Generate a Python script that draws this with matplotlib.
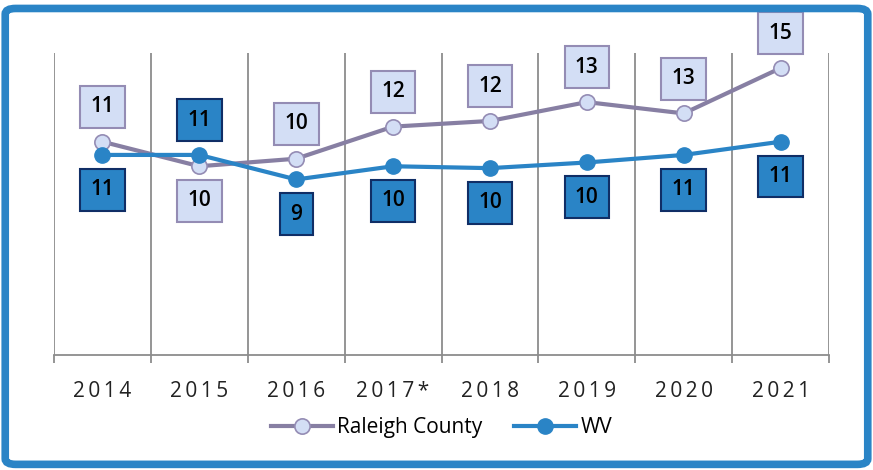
import matplotlib.pyplot as plt
from matplotlib.patches import FancyBboxPatch
import numpy as np

plt.rcParams['font.family'] = ['Open Sans', 'DejaVu Sans']

years = ['2014', '2015', '2016', '2017*', '2018', '2019', '2020', '2021']
raleigh = [11.3, 10.0, 10.4, 12.1, 12.4, 13.4, 12.8, 15.2]
wv = [10.6, 10.6, 9.3, 10.0, 9.9, 10.2, 10.6, 11.3]
raleigh_above = [True, False, True, True, True, True, True, True]
wv_above = [False, True, False, False, False, False, False, False]

c_ral = '#877FA3'
c_ral_fill = '#D3DEF5'
c_ral_edge = '#948CB4'
c_wv = '#2A84C6'
c_wv_edge = '#102E66'
c_grid = '#8C8C8C'

fig = plt.figure(figsize=(8.73, 4.7), dpi=100)

# outer blue frame
frame = FancyBboxPatch((0.006, 0.012), 0.988, 0.97, boxstyle='round,pad=0,rounding_size=0.012',
                       transform=fig.transFigure, fill=False, edgecolor=c_wv, linewidth=5.5)
fig.patches.append(frame)

ax = fig.add_axes([0.0619, 0.2447, 0.8877, 0.6425])
x = np.arange(len(years))

for b in np.arange(-0.5, len(years), 1):
    ax.axvline(b, color=c_grid, linewidth=1.3, zorder=1)

ax.plot(x, raleigh, color=c_ral, linewidth=3, marker='o', markersize=11,
        markerfacecolor=c_ral_fill, markeredgecolor=c_ral_edge, markeredgewidth=1.2,
        label='Raleigh County', zorder=3)
ax.plot(x, wv, color=c_wv, linewidth=3, marker='o', markersize=11,
        markerfacecolor=c_wv, markeredgecolor=c_wv, label='WV', zorder=4)

for i in range(len(years)):
    off = 25 if raleigh_above[i] else -25
    ax.annotate('{:.0f}'.format(raleigh[i]), (x[i], raleigh[i]), xytext=(0, off),
                textcoords='offset points', ha='center', va='center', fontsize=15,
                fontweight='semibold', color='black', annotation_clip=False, zorder=5,
                bbox=dict(boxstyle='square,pad=0.5', facecolor=c_ral_fill,
                          edgecolor=c_ral_edge, linewidth=1.5))
    off = 25 if wv_above[i] else -25
    ax.annotate('{:.0f}'.format(wv[i]), (x[i], wv[i]), xytext=(0, off),
                textcoords='offset points', ha='center', va='center', fontsize=15,
                fontweight='semibold', color='black', annotation_clip=False, zorder=5,
                bbox=dict(boxstyle='square,pad=0.5', facecolor=c_wv,
                          edgecolor=c_wv_edge, linewidth=1.5))

ax.set_xlim(-0.5, len(years) - 0.5)
ax.set_ylim(0, 16)
ax.set_yticks([])
for s in ['top', 'right', 'left']:
    ax.spines[s].set_visible(False)
ax.spines['bottom'].set_color(c_grid)
ax.spines['bottom'].set_linewidth(1.3)

ax.set_xticks(np.arange(-0.5, len(years), 1))
ax.set_xticklabels([])
ax.tick_params(axis='x', which='major', length=6, width=1.3, color=c_grid, direction='out')
ax.set_xticks(x, minor=True)
ax.set_xticklabels(['\u2009'.join(y) for y in years], minor=True, fontsize=15, color='#222222')
ax.tick_params(axis='x', which='minor', length=0, pad=19)

ax.legend(loc='upper center', bbox_to_anchor=(0.5, -0.205), ncol=2, frameon=False,
          fontsize=15, handlelength=3, columnspacing=1.5, handletextpad=0.2,
          borderaxespad=0, borderpad=0)

fig.savefig('out.png', dpi=100)
